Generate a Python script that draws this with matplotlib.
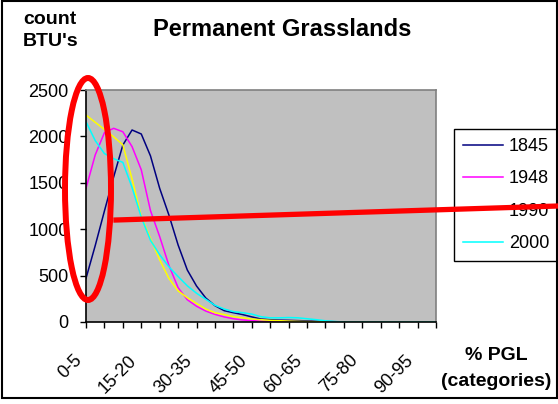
import matplotlib
matplotlib.use("Agg")
import matplotlib.pyplot as plt
import matplotlib.transforms as mtransforms
from matplotlib.patches import Ellipse, Rectangle
from matplotlib.lines import Line2D
import numpy as np

plt.rcParams["font.family"] = ["Liberation Sans", "DejaVu Sans"]

# categories (% PGL, 5% classes); values are read at half-class steps
categories = ["0-5", "5-10", "10-15", "15-20", "20-25", "25-30", "30-35", "35-40",
              "40-45", "45-50", "50-55", "55-60", "60-65", "65-70", "70-75",
              "75-80", "80-85", "85-90", "90-95", "95-100"]

y1845 = [470, 823, 1196, 1562, 1907, 2069, 2026, 1790, 1440, 1153,
         830, 560, 388, 259, 176, 122, 100, 80, 55, 32,
         25, 20, 18, 15, 12, 8, 5, 3, 1, 0,
         0, 0, 0, 0, 0, 0, 0, 0, 0]
y1948 = [1440, 1800, 2040, 2087, 2050, 1890, 1640, 1200, 920, 610,
         370, 240, 170, 118, 82, 55, 35, 22, 15, 10,
         7, 5, 4, 3, 2, 1, 0, 0, 0, 0,
         0, 0, 0, 0, 0, 0, 0, 0, 0]
y1990 = [2230, 2152, 2075, 1995, 1910, 1540, 1140, 900, 670, 470,
         335, 262, 200, 140, 100, 80, 58, 45, 32, 25,
         18, 14, 10, 7, 5, 3, 2, 1, 0, 0,
         0, 0, 0, 0, 0, 0, 0, 0, 0]
y2000 = [2158, 1955, 1815, 1760, 1720, 1450, 1130, 880, 725, 595,
         490, 390, 310, 245, 180, 140, 112, 100, 85, 57,
         45, 45, 48, 45, 35, 25, 13, 5, 0, 0,
         0, 0, 0, 0, 0, 0, 0, 0, 0]

series = [("1845", y1845, "#000080"),
          ("1948", y1948, "#FF00FF"),
          ("1990", y1990, "#FFFF00"),
          ("2000", y2000, "#00FFFF")]

W, H = 558, 404
fig = plt.figure(figsize=(W / 100, H / 100), dpi=100)
fig.patch.set_facecolor("white")

ax = fig.add_axes([86 / W, 1 - 322 / H, 350 / W, 232 / H])
ax.set_facecolor("#C0C0C0")

xs = np.arange(len(y1845)) * 0.5
for name, vals, col in series:
    ax.plot(xs, vals, color=col, linewidth=1.1, label=name)

ax.set_xlim(0, len(categories) - 1)
ax.set_ylim(0, 2500)
ax.set_yticks(np.arange(0, 2501, 500))
ax.set_xticks(np.arange(len(categories)))
ax.set_xticklabels([c if i % 3 == 0 else "" for i, c in enumerate(categories)],
                   rotation=45, ha="right", va="top", rotation_mode="anchor")
ax.tick_params(axis="x", direction="out", length=4.5, width=1, pad=17, labelsize=13)
ax.tick_params(axis="y", direction="out", length=4.5, width=1, pad=8, labelsize=13)
shift = mtransforms.ScaledTranslation(-13 / 100, 0, fig.dpi_scale_trans)
for lab in ax.get_xticklabels():
    lab.set_transform(lab.get_transform() + shift)

for side in ["left", "bottom"]:
    ax.spines[side].set_color("black")
    ax.spines[side].set_linewidth(1.2)
for side in ["top", "right"]:
    ax.spines[side].set_color("#808080")
    ax.spines[side].set_linewidth(1.2)

fig.text(282 / W, 1 - 30 / H, "Permanent Grasslands", fontsize=17,
         fontweight="bold", ha="center", va="center")
fig.text(23 / W, 1 - 20 / H, "count", fontsize=14, fontweight="bold",
         ha="left", va="center")
fig.text(23 / W, 1 - 42 / H, "BTU's", fontsize=14, fontweight="bold",
         ha="left", va="center")
fig.text(496 / W, 1 - 356 / H, "% PGL", fontsize=14, fontweight="bold",
         ha="center", va="center")
fig.text(496 / W, 1 - 382 / H, "(categories)", fontsize=14, fontweight="bold",
         ha="center", va="center")

leg = ax.legend(loc="upper left", bbox_to_anchor=(454 / W, 1 - 129 / H),
                bbox_transform=fig.transFigure, fontsize=13, frameon=True,
                fancybox=False, handlelength=2.2, handletextpad=0.35,
                labelspacing=0.85, borderpad=0.5, borderaxespad=0)
leg.get_frame().set_edgecolor("black")
leg.get_frame().set_linewidth(1)
leg.get_frame().set_facecolor("white")
leg.get_frame().set_alpha(1)

# outer chart border
fig.patches.append(Rectangle((1.5 / W, 1 - 398 / H), 555 / W, 397 / H,
                             transform=fig.transFigure, fill=False,
                             edgecolor="black", linewidth=1.5))

# red hand-drawn highlight
fig.patches.append(Ellipse((88 / W, 1 - 189 / H), 46 / W, 222 / H, angle=0,
                           transform=fig.transFigure, fill=False,
                           edgecolor="#FF0000", linewidth=4.3, zorder=10))
fig.lines.append(Line2D([116 / W, 1.0], [1 - 220 / H, 1 - 206 / H],
                        transform=fig.transFigure, color="#FF0000",
                        linewidth=3.8, zorder=10))

fig.savefig("out.png", dpi=100, facecolor="white")
